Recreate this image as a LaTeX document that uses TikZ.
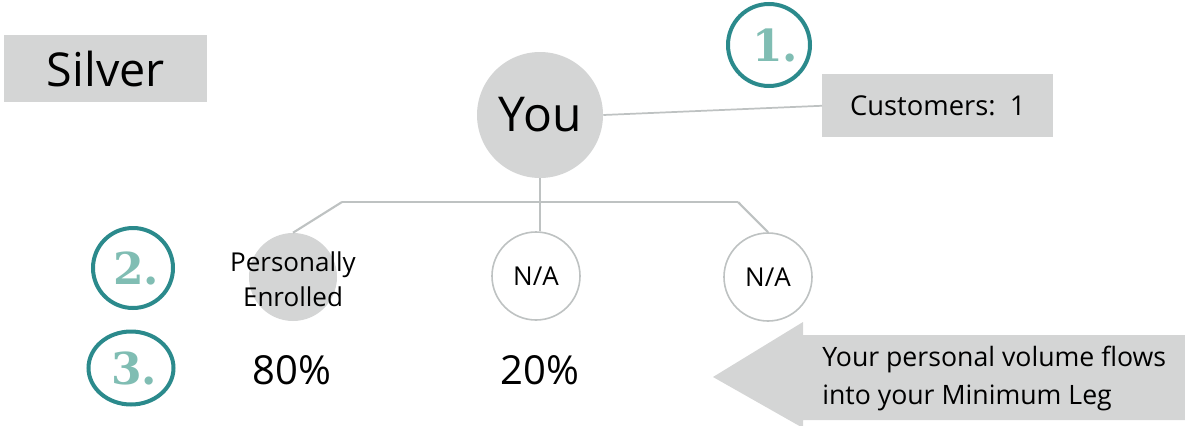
\documentclass[tikz,border=0pt]{standalone}
\usepackage{fontspec}
\setmainfont{Open Sans}
\newfontfamily\numfont{DejaVu Serif}
\usetikzlibrary{shapes.geometric}
\definecolor{boxgray}{HTML}{D4D5D5}
\definecolor{linegray}{HTML}{BEC2C2}
\definecolor{tealring}{HTML}{2B8A8C}
\definecolor{tealnum}{HTML}{80BDB3}
\tikzset{
  px/.style={x=0.75pt,y=-0.75pt},
  graybox/.style={fill=boxgray,inner sep=0pt,anchor=north west},
  tree/.style={draw=linegray,line width=1.6pt},
  member/.style={circle,draw=linegray,line width=1.2pt,fill=white,inner sep=0pt,minimum size=88*0.75pt,font=\fontsize{19.5}{22}\selectfont},
  ring/.style={circle,draw=tealring,line width=3pt,inner sep=0pt,minimum size=80*0.75pt},
  numtext/.style={text=tealnum,font=\numfont\bfseries\fontsize{33}{36}\selectfont,inner sep=0pt},
  pct/.style={font=\fontsize{30}{36}\selectfont,inner sep=0pt}
}
\begin{document}
\begin{tikzpicture}[px]
\useasboundingbox (0,0) rectangle (1185,425);

% rank label
\node[graybox,minimum width=203*0.75pt,minimum height=67*0.75pt,font=\fontsize{35}{40}\selectfont] (rank) at (4,35) {Silver};

% top of the tree and the customer count
\node[circle,fill=boxgray,inner sep=0pt,minimum size=126*0.75pt,font=\fontsize{36}{42}\selectfont] (you) at (540,115) {You};
\node[graybox,minimum width=231*0.75pt,minimum height=63*0.75pt,font=\fontsize{20.5}{24}\selectfont] (cust) at (822,74) {Customers:\ \ 1};
\draw[tree,line width=1.3pt] (you.east) -- (cust.west);

% legs
\node[circle,fill=boxgray,inner sep=0pt,minimum size=88*0.75pt] (pe) at (293,277) {};
\node[align=center,font=\fontsize{19.5}{26}\selectfont,inner sep=0pt] (petext) at (293,279) {Personally\\Enrolled};
\node[member] (na1) at (536,276) {N/A};
\node[member] (na2) at (768,277) {\raisebox{-3pt}{N/A}};

\coordinate (hl) at (342,202);
\coordinate (hr) at (738,202);
\draw[tree] (hl) -- (hr);
\draw[tree] (you.south) -- (you.south |- na1.north);
\draw[tree] (hl) -- (pe.north);
\draw[tree] (hr) -- (na2.north);

% percentages
\node[pct] (p1) at (292,370) {80\%};
\node[pct] (p2) at (540,370) {20\%};

% numbered markers
\node[ring,minimum size=82*0.75pt] (r1) at (769,45) {};
\node[numtext] (n1) at (775,45) {1.};
\node[ring] (r2) at (133,268) {};
\node[numtext] (n2) at (136,268) {2.};
\node[ring,ellipse,minimum width=85*0.75pt,minimum height=73*0.75pt] (r3) at (131,368) {};
\node[numtext] (n3) at (134,368) {3.};

% volume flow arrow
\fill[boxgray] (713,377) -- (803,322) -- (803,335) -- (1185,335) -- (1185,420) -- (803,420) -- (803,428) -- cycle;
\node[anchor=west,align=left,inner sep=0pt,font=\fontsize{20}{28.5}\selectfont] (flow) at (822,378) {Your personal volume flows\\into your Minimum Leg};
\end{tikzpicture}
\end{document}
